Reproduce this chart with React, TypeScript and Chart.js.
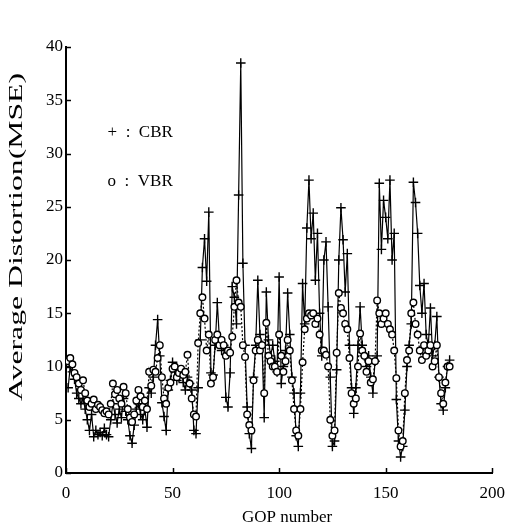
import React, { useEffect, useRef } from 'react';
import { Chart, registerables } from 'chart.js';

Chart.register(...registerables);

// GOP numbers (x categories)
const gop: number[] = [
  1, 2, 3, 4, 5, 6, 7, 8, 9, 10, 11, 12, 13, 14, 15, 16, 17, 18, 19, 20,
  21, 22, 23, 24, 25, 26, 27, 28, 29, 30, 31, 32, 33, 34, 35, 36, 37, 38, 39, 40,
  41, 42, 43, 44, 45, 46, 47, 48, 49, 50, 51, 52, 53, 54, 55, 56, 57, 58, 59, 60,
  61, 62, 63, 64, 65, 66, 67, 68, 69, 70, 71, 72, 73, 74, 75, 76, 77, 78, 79, 80,
  81, 82, 83, 84, 85, 86, 87, 88, 89, 90, 91, 92, 93, 94, 95, 96, 97, 98, 99, 100,
  101, 102, 103, 104, 105, 106, 107, 108, 109, 110, 111, 112, 113, 114, 115, 116, 117, 118, 119, 120,
  121, 122, 123, 124, 125, 126, 127, 128, 129, 130, 131, 132, 133, 134, 135, 136, 137, 138, 139, 140,
  141, 142, 143, 144, 145, 146, 147, 148, 149, 150, 151, 152, 153, 154, 155, 156, 157, 158, 159, 160,
  161, 162, 163, 164, 165, 166, 167, 168, 169, 170, 171, 172, 173, 174, 175, 176, 177, 178, 179, 180,
];

// CBR average distortion (MSE)
const cbr: number[] = [
  8.0, 10.0, 9.5, 8.8, 7.5, 7.0, 6.5, 7.0, 6.0, 5.0,
  4.0, 5.5, 3.4, 4.0, 3.6, 3.8, 3.5, 4.2, 3.6, 3.4,
  5.0, 6.5, 5.5, 4.7, 6.0, 5.2, 7.0, 5.8, 5.0, 3.5,
  2.8, 4.5, 6.0, 6.5, 5.5, 5.0, 6.0, 4.3, 8.0, 7.5,
  9.0, 12.0, 14.4, 11.0, 6.6, 5.3, 4.0, 7.8, 8.7, 10.4,
  9.5, 8.7, 9.0, 9.7, 8.5, 7.8, 9.0, 8.4, 7.8, 4.0,
  3.7, 8.0, 12.5, 19.3, 22.0, 18.0, 24.5, 9.4, 9.2, 12.0,
  16.0, 12.5, 11.5, 12.0, 7.1, 6.2, 9.4, 17.5, 16.5, 14.0,
  26.1, 38.5, 19.7, 12.0, 6.2, 3.7, 2.3, 9.0, 12.0, 18.1,
  13.0, 12.0, 5.2, 17.0, 12.5, 11.0, 12.0, 10.5, 9.5, 18.4,
  8.4, 10.0, 11.5, 16.9, 13.0, 9.0, 7.5, 3.5, 2.5, 7.5,
  17.8, 14.0, 23.0, 27.5, 22.0, 24.4, 18.1, 22.5, 15.0, 11.0,
  20.0, 21.7, 15.6, 9.0, 2.5, 3.0, 9.7, 20.0, 24.9, 21.9,
  17.0, 20.6, 12.0, 8.0, 5.6, 8.0, 12.0, 15.6, 12.0, 11.0,
  10.0, 11.0, 9.0, 7.5, 10.5, 11.0, 27.2, 21.0, 25.6, 24.0,
  22.0, 27.5, 20.0, 22.5, 6.9, 3.0, 1.5, 2.5, 5.9, 10.0,
  12.0, 14.0, 27.3, 25.4, 22.5, 17.6, 15.0, 17.8, 13.0, 12.0,
  15.5, 11.0, 12.0, 14.7, 9.0, 6.5, 5.9, 8.0, 10.0, 10.6,
];

// VBR average distortion (MSE)
const vbr: number[] = [
  10.5, 10.8, 10.2, 9.4, 9.0, 8.4, 7.8, 8.7, 7.5, 6.8,
  6.2, 6.5, 6.9, 6.0, 6.4, 6.2, 5.9, 5.6, 5.8, 5.5,
  6.5, 8.4, 7.4, 7.8, 7.0, 6.5, 8.1, 7.5, 6.0, 5.2,
  4.8, 5.5, 6.8, 7.8, 7.2, 6.2, 6.8, 6.0, 9.5, 8.2,
  9.7, 9.5, 10.8, 12.0, 9.0, 7.0, 6.5, 8.0, 8.5, 9.8,
  10.0, 9.0, 9.4, 9.8, 9.2, 9.5, 11.1, 8.4, 7.0, 5.5,
  5.3, 12.2, 15.0, 16.5, 14.5, 11.5, 13.0, 8.4, 9.0, 12.5,
  13.0, 12.0, 12.5, 12.0, 11.0, 11.5, 11.3, 12.8, 15.6, 18.1,
  16.0, 15.6, 12.0, 10.9, 5.5, 4.5, 4.0, 8.7, 11.5, 12.5,
  11.5, 12.0, 7.5, 14.1, 11.0, 10.5, 10.0, 10.0, 9.5, 13.0,
  11.0, 9.5, 10.5, 12.5, 11.5, 8.7, 6.0, 4.0, 3.5, 6.0,
  10.4, 13.5, 14.5, 15.0, 14.8, 15.0, 14.0, 14.5, 13.0, 11.5,
  11.5, 11.1, 10.0, 5.0, 3.5, 4.0, 11.3, 16.9, 15.5, 15.0,
  14.0, 13.5, 10.8, 7.5, 6.5, 7.0, 10.0, 13.1, 11.5, 11.0,
  9.5, 10.5, 8.5, 8.8, 10.5, 16.2, 15.0, 14.0, 14.5, 15.0,
  14.0, 13.5, 13.0, 11.5, 8.9, 4.0, 2.5, 3.0, 7.5, 10.6,
  11.5, 15.0, 16.0, 14.0, 13.0, 11.5, 10.6, 12.0, 11.0, 11.5,
  12.0, 10.0, 10.5, 12.0, 9.0, 7.5, 6.5, 8.5, 10.0, 10.0,
];

const xTicks: number[] = [0, 50, 100, 150, 200];
const yTicks: number[] = [0, 5, 10, 15, 20, 25, 30, 35, 40];

const FONT = '"Liberation Serif", "DejaVu Serif", serif';

const innerTicks = {
  id: 'innerTicks',
  afterDatasetsDraw(chart: any) {
    const { ctx, chartArea, scales } = chart;
    const x = scales.x;
    const y = scales.y;
    ctx.save();
    ctx.strokeStyle = '#000';
    ctx.lineWidth = 1.5;
    yTicks.forEach((v) => {
      const py = Math.round(y.getPixelForValue(v)) + 0.5;
      ctx.beginPath();
      ctx.moveTo(chartArea.left, py);
      ctx.lineTo(chartArea.left + 5, py);
      ctx.stroke();
    });
    xTicks.forEach((v) => {
      const px = Math.round(x.getPixelForValue(v)) + 0.5;
      ctx.beginPath();
      ctx.moveTo(px, chartArea.bottom);
      ctx.lineTo(px, chartArea.bottom - 5);
      ctx.stroke();
    });
    ctx.restore();
  },
};

const textPlugin = {
  id: 'textPlugin',
  afterDraw(chart: any) {
    const { ctx, chartArea, scales } = chart;
    const x = scales.x;
    const y = scales.y;
    ctx.save();
    ctx.fillStyle = '#000';
    // in-plot legend
    ctx.font = `17px ${FONT}`;
    ctx.textBaseline = 'middle';
    ctx.textAlign = 'left';
    ctx.fillText('+  :  CBR', x.getPixelForValue(19.5), y.getPixelForValue(32.0));
    ctx.fillText('o  :  VBR', x.getPixelForValue(19.5), y.getPixelForValue(27.4));
    // x title
    ctx.textAlign = 'center';
    ctx.textBaseline = 'middle';
    ctx.font = `17px ${FONT}`;
    ctx.fillText('GOP number', (chartArea.left + chartArea.right) / 2 + 8, chartArea.bottom + 45);
    // y title (stretched along its length like the scan)
    ctx.translate(chartArea.left - 49, (chartArea.top + chartArea.bottom) / 2 - 23);
    ctx.rotate(-Math.PI / 2);
    ctx.font = `19px ${FONT}`;
    const w = ctx.measureText('Average Distortion(MSE)').width;
    ctx.scale(328 / w, 1);
    ctx.fillText('Average Distortion(MSE)', 0, 0);
    ctx.restore();
  },
};

export default function App() {
  const ref = useRef<HTMLCanvasElement | null>(null);
  useEffect(() => {
    document.body.style.margin = '0';
    const canvas = ref.current;
    if (!canvas) return;
    const chart = new Chart(canvas, {
      type: 'line',
      data: {
        datasets: [
          {
            label: 'VBR',
            data: gop.map((g, i) => ({ x: g, y: vbr[i] })),
            borderColor: '#000',
            borderWidth: 1.2,
            borderDash: [2, 2],
            pointStyle: 'circle',
            pointRadius: 3.3,
            pointBorderWidth: 1.4,
            pointBackgroundColor: '#fff',
            pointBorderColor: '#000',
            tension: 0,
            fill: false,
          },
          {
            label: 'CBR',
            data: gop.map((g, i) => ({ x: g, y: cbr[i] })),
            borderColor: '#000',
            borderWidth: 1.2,
            pointStyle: 'cross',
            pointRadius: 4.8,
            pointBorderWidth: 1.4,
            pointBorderColor: '#000',
            tension: 0,
            fill: false,
          },
        ],
      },
      options: {
        responsive: false,
        animation: false,
        devicePixelRatio: 1,
        layout: { padding: { top: 47, right: 18, left: 0, bottom: 0 } },
        plugins: { legend: { display: false }, tooltip: { enabled: false }, title: { display: false } },
        scales: {
          x: {
            type: 'linear',
            min: 0,
            max: 200,
            afterBuildTicks: (s: any) => { s.ticks = xTicks.map((v) => ({ value: v })); },
            afterFit: (s: any) => { s.height = 57; },
            grid: { display: false, drawTicks: false },
            border: { display: true, color: '#000', width: 2 },
            ticks: { color: '#000', font: { family: FONT, size: 17 }, padding: 10, maxRotation: 0 },
          },
          y: {
            type: 'linear',
            min: 0,
            max: 40,
            afterBuildTicks: (s: any) => { s.ticks = yTicks.map((v) => ({ value: v })); },
            afterFit: (s: any) => { s.width = 66; },
            grid: { display: false, drawTicks: false },
            border: { display: true, color: '#000', width: 2 },
            ticks: { color: '#000', font: { family: FONT, size: 17 }, padding: 3 },
          },
        },
      },
      plugins: [innerTicks, textPlugin],
    });
    return () => chart.destroy();
  }, []);
  return (
    <div style={{ position: 'absolute', left: 0, top: 0, width: 515, height: 530, background: '#fff' }}>
      <canvas ref={ref} width={515} height={530} style={{ width: 515, height: 530 }} />
    </div>
  );
}
